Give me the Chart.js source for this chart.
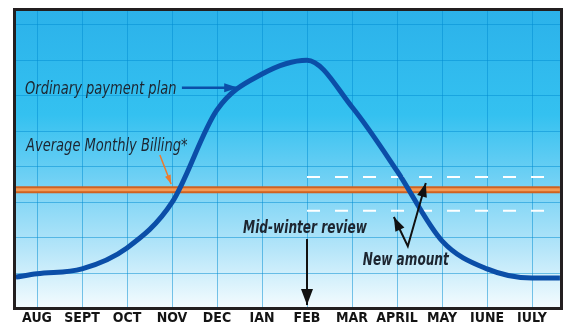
<!DOCTYPE html>
<html lang="en">
<head>
  <meta charset="UTF-8" />
  <title>Ordinary payment plan vs Average Monthly Billing</title>
  <script src="https://cdn.jsdelivr.net/npm/chart.js"></script>
  <style>
    html, body {
      margin: 0;
      padding: 0;
      background: #fff;
      overflow: hidden;
    }
    #chart {
      display: block;
    }
  </style>
</head>
<body>
  <canvas id="chart" width="564" height="340"></canvas>

  <script>
    // month labels, x position = index
    const months = ['AUG', 'SEPT', 'OCT', 'NOV', 'DEC', 'JAN', 'FEB', 'MAR', 'APRIL', 'MAY', 'JUNE', 'JULY'];

    // ordinary payment plan (grid units)
    const planX = [-0.47, 0, 1, 2, 3, 4, 5, 6, 7, 8, 9, 10, 11, 11.62];
    const planY = [0.90, 0.99, 1.13, 1.72, 3.00, 5.61, 6.62, 7.01, 5.69, 3.89, 1.92, 1.13, 0.87, 0.87];

    // average monthly billing, flat
    const avgX = [-0.47, 11.62];
    const avgY = 3.36;

    // new amount after mid-winter review (dashed)
    const reviewX = [6, 11.38];
    const newHigh = 3.72;
    const newLow = 2.77;

    const notes = [
      { text: 'Ordinary payment plan', x: -0.267, y: 6.06, bold: false },
      { text: 'Average Monthly Billing*', x: -0.244, y: 4.45, bold: false },
      { text: 'Mid-winter review', x: 4.58, y: 2.14, bold: true },
      { text: 'New amount', x: 7.24, y: 1.24, bold: true }
    ];

    const arrows = [
      { pts: [[3.22, 6.23], [4.47, 6.23]], color: '#0b4fa8', w: 2.5, head: [14, 9], both: false },
      { pts: [[2.73, 4.34], [2.98, 3.52]], color: '#ee7a2c', w: 1.5, head: [9, 6], both: false },
      { pts: [[6, 1.97], [6, 0.11]], color: '#111', w: 2, head: [16, 12], both: false },
      { pts: [[7.93, 2.59], [8.24, 1.77], [8.64, 3.55]], color: '#111', w: 2, head: [14, 10], both: true }
    ];

    const xy = (xs, ys) => xs.map((x, i) => ({ x: x, y: Array.isArray(ys) ? ys[i] : ys }));

    const narrow = "'Liberation Sans Narrow', 'DejaVu Sans Condensed', 'Liberation Sans', sans-serif";

    // squeeze factor, the original uses a condensed face
    function squeeze(ctx, bold) {
      ctx.save();
      ctx.font = "17px 'Liberation Sans Narrow'";
      const a = ctx.measureText('Ordinary payment').width;
      ctx.font = "17px 'Liberation Sans'";
      const b = ctx.measureText('Ordinary payment').width;
      ctx.restore();
      const base = bold ? 0.65 : 0.70;
      return a < b * 0.95 ? base / 0.82 : base;
    }

    function drawHead(ctx, from, to, len, wid) {
      const ang = Math.atan2(to[1] - from[1], to[0] - from[0]);
      ctx.save();
      ctx.translate(to[0], to[1]);
      ctx.rotate(ang);
      ctx.beginPath();
      ctx.moveTo(0, 0);
      ctx.lineTo(-len, -wid / 2);
      ctx.lineTo(-len, wid / 2);
      ctx.closePath();
      ctx.fill();
      ctx.restore();
    }

    const decor = {
      id: 'decor',
      beforeDraw(chart) {
        const { ctx, chartArea: a } = chart;
        const g = ctx.createLinearGradient(0, a.top, 0, a.bottom);
        g.addColorStop(0, '#2cb2ea');
        g.addColorStop(0.35, '#34c1f0');
        g.addColorStop(0.55, '#6bcff4');
        g.addColorStop(0.8, '#b4e5f9');
        g.addColorStop(1, '#f3fbfe');
        ctx.save();
        ctx.fillStyle = g;
        ctx.fillRect(a.left, a.top, a.right - a.left, a.bottom - a.top);
        ctx.restore();
      },
      afterDraw(chart) {
        const { ctx, chartArea: a } = chart;
        const xs = chart.scales.x, ys = chart.scales.y;
        const px = p => [xs.getPixelForValue(p[0]), ys.getPixelForValue(p[1])];

        // arrows
        arrows.forEach(ar => {
          const p = ar.pts.map(px);
          ctx.save();
          ctx.strokeStyle = ar.color;
          ctx.fillStyle = ar.color;
          ctx.lineWidth = ar.w;
          ctx.lineJoin = 'miter';
          ctx.beginPath();
          ctx.moveTo(p[0][0], p[0][1]);
          for (let i = 1; i < p.length; i++) ctx.lineTo(p[i][0], p[i][1]);
          ctx.stroke();
          const n = p.length;
          drawHead(ctx, p[n - 2], p[n - 1], ar.head[0], ar.head[1]);
          if (ar.both) drawHead(ctx, p[1], p[0], ar.head[0], ar.head[1]);
          ctx.restore();
        });

        // text notes
        notes.forEach(nt => {
          const [x, y] = px([nt.x, nt.y]);
          ctx.save();
          ctx.translate(x, y);
          ctx.scale(squeeze(ctx, nt.bold), 1);
          ctx.font = (nt.bold ? 'italic bold ' : 'italic ') + '17px ' + narrow;
          ctx.fillStyle = '#1d2530';
          ctx.textBaseline = 'alphabetic';
          ctx.fillText(nt.text, 0, 0);
          ctx.restore();
        });

        // frame
        ctx.save();
        ctx.strokeStyle = '#231f20';
        ctx.lineWidth = 3;
        ctx.strokeRect(a.left - 1.5, a.top - 1.5, a.right - a.left + 3, a.bottom - a.top + 3);
        ctx.restore();
      }
    };

    new Chart(document.getElementById('chart'), {
      type: 'line',
      data: {
        datasets: [
          {
            label: 'Ordinary payment plan',
            data: xy(planX, planY),
            borderColor: '#0b4ea8',
            borderWidth: 5,
            cubicInterpolationMode: 'monotone',
            pointRadius: 0,
            order: 0
          },
          {
            label: 'New amount high',
            data: xy(reviewX, newHigh),
            borderColor: '#ffffff',
            borderWidth: 2,
            borderDash: [13, 15],
            pointRadius: 0,
            order: 1
          },
          {
            label: 'New amount low',
            data: xy(reviewX, newLow),
            borderColor: '#ffffff',
            borderWidth: 2,
            borderDash: [13, 15],
            pointRadius: 0,
            order: 1
          },
          {
            label: 'Average Monthly Billing shine',
            data: xy(avgX, avgY),
            borderColor: '#f39a55',
            borderWidth: 3,
            pointRadius: 0,
            order: 2
          },
          {
            label: 'Average Monthly Billing',
            data: xy(avgX, avgY),
            borderColor: '#cf6220',
            borderWidth: 7,
            pointRadius: 0,
            order: 3
          }
        ]
      },
      options: {
        responsive: false,
        animation: false,
        layout: { padding: { left: 16, right: 4, top: 11, bottom: 0 } },
        plugins: {
          legend: { display: false },
          tooltip: { enabled: false }
        },
        scales: {
          x: {
            type: 'linear',
            min: -0.467,
            max: 11.622,
            afterBuildTicks: s => { s.ticks = months.map((m, i) => ({ value: i })); },
            afterFit: s => { s.height = 33; },
            grid: { color: 'rgba(0,140,210,0.5)', drawTicks: false },
            border: { display: false },
            ticks: {
              padding: 3,
              autoSkip: false,
              maxRotation: 0,
              color: '#141414',
              font: { family: narrow, size: 14, weight: 'bold' },
              callback: v => months[v]
            }
          },
          y: {
            type: 'linear',
            min: 0.056,
            max: 8.394,
            afterBuildTicks: s => { s.ticks = [1, 2, 3, 4, 5, 6, 7, 8].map(v => ({ value: v })); },
            grid: { color: 'rgba(0,140,210,0.5)', drawTicks: false },
            border: { display: false },
            ticks: { display: false }
          }
        }
      },
      plugins: [decor]
    });
  </script>
</body>
</html>
